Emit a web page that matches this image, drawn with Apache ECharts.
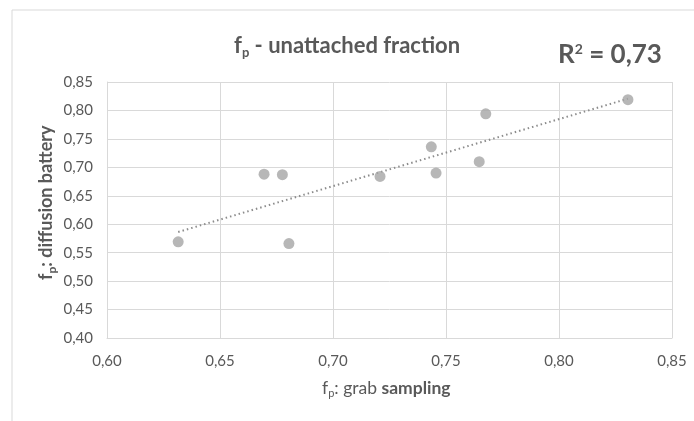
<!DOCTYPE html>
<html><head><meta charset="utf-8">
<script src="https://cdn.jsdelivr.net/npm/echarts@6/dist/echarts.min.js"></script>
<style>html,body{margin:0;padding:0;background:#fff}#c{width:694px;height:421px}</style>
</head><body><div id="c"></div>
<script>
const grabSampling = [0.6315, 0.6695, 0.6776, 0.6805, 0.7208, 0.7435, 0.7456, 0.7647, 0.7676, 0.8305];
const diffusionBattery = [0.569, 0.688, 0.687, 0.566, 0.684, 0.736, 0.690, 0.710, 0.794, 0.819];
const xTicks = [0.60, 0.65, 0.70, 0.75, 0.80, 0.85];
const yTicks = [0.40, 0.45, 0.50, 0.55, 0.60, 0.65, 0.70, 0.75, 0.80, 0.85];

const pts = grabSampling.map((x, i) => [x, diffusionBattery[i]]);
// linear trendline (least squares) from the data
const n = pts.length;
const mx = grabSampling.reduce((a, b) => a + b, 0) / n;
const my = diffusionBattery.reduce((a, b) => a + b, 0) / n;
let sxy = 0, sxx = 0;
pts.forEach(([x, y]) => { sxy += (x - mx) * (y - my); sxx += (x - mx) * (x - mx); });
const slope = sxy / sxx, icpt = my - slope * mx;
const xmin = Math.min(...grabSampling), xmax = Math.max(...grabSampling);
const trend = [[xmin, icpt + slope * xmin], [xmax, icpt + slope * xmax]];

const fmt = v => v.toFixed(2).replace('.', ',');
const FONT = 'Lato, "Open Sans", sans-serif';
const chart = echarts.init(document.getElementById('c'), null, {renderer: 'canvas'});
chart.setOption({
  animation: false,
  textStyle: {fontFamily: FONT},
  grid: {left: 107, right: 22, top: 82, bottom: 83, containLabel: false},
  graphic: [
    {type: 'line', shape: {x1: 12, y1: 10, x2: 694, y2: 10}, style: {stroke: '#d9d9d9', lineWidth: 1}},
    {type: 'line', shape: {x1: 12, y1: 10, x2: 12, y2: 421}, style: {stroke: '#d9d9d9', lineWidth: 1}},
    {type: 'text', left: 234, top: 35, style: {
      rich: {
        b: {fontFamily: FONT, fontSize: 22, fontWeight: 'bold', fill: '#595959'},
        s: {fontFamily: FONT, fontSize: 13, fontWeight: 'bold', fill: '#595959', padding: [13, 0, 0, 0]}
      },
      text: '{b|f}{s|p}{b| - unattached fraction}'
    }},
    {type: 'text', left: 558, top: 42, style: {
      rich: {
        b: {fontFamily: FONT, fontSize: 26, fontWeight: 'bold', fill: '#595959'},
        s: {fontFamily: FONT, fontSize: 14, fontWeight: 'bold', fill: '#595959', padding: [0, 0, 11, 0]}
      },
      text: '{b|R}{s|2}{b| = 0,73}'
    }},
    {type: 'text', left: 322, top: 379, style: {
      rich: {
        n: {fontFamily: FONT, fontSize: 17.5, fill: '#595959'},
        s: {fontFamily: FONT, fontSize: 11, fill: '#595959', padding: [11, 0, 0, 0]},
        b: {fontFamily: FONT, fontSize: 17.5, fontWeight: 'bold', fill: '#595959'}
      },
      text: '{n|f}{s|p}{n|: grab }{b|sampling}'
    }},
    {type: 'text', x: 35, y: 280, rotation: Math.PI / 2, style: {
      rich: {
        b: {fontFamily: FONT, fontSize: 18, fontWeight: 'bold', fill: '#595959'},
        s: {fontFamily: FONT, fontSize: 12, fontWeight: 'bold', fill: '#595959', padding: [11, 0, 0, 0]}
      },
      text: '{b|f}{s|p}{b|: diffusion battery}'
    }}
  ],
  xAxis: {
    type: 'value', min: 0.60, max: 0.85, interval: 0.05,
    axisLine: {show: true, lineStyle: {color: '#d9d9d9'}},
    axisTick: {show: false},
    axisLabel: {color: '#595959', fontSize: 15, margin: 16, formatter: fmt, fontFamily: FONT},
    splitLine: {show: true, lineStyle: {color: '#d9d9d9', width: 1}}
  },
  yAxis: {
    type: 'value', min: 0.40, max: 0.85, interval: 0.05,
    axisLine: {show: true, lineStyle: {color: '#d9d9d9'}},
    axisTick: {show: false},
    axisLabel: {color: '#595959', fontSize: 15, margin: 14, formatter: fmt, fontFamily: FONT},
    splitLine: {show: true, lineStyle: {color: '#d9d9d9', width: 1}}
  },
  series: [
    {type: 'line', data: trend, symbol: 'none', silent: true,
     lineStyle: {color: '#8c8c8c', width: 2, type: [1.5, 3]}, z: 2},
    {type: 'scatter', data: pts, symbolSize: 11,
     itemStyle: {color: '#a5a5a5'}, z: 3}
  ]
});
</script></body></html>
